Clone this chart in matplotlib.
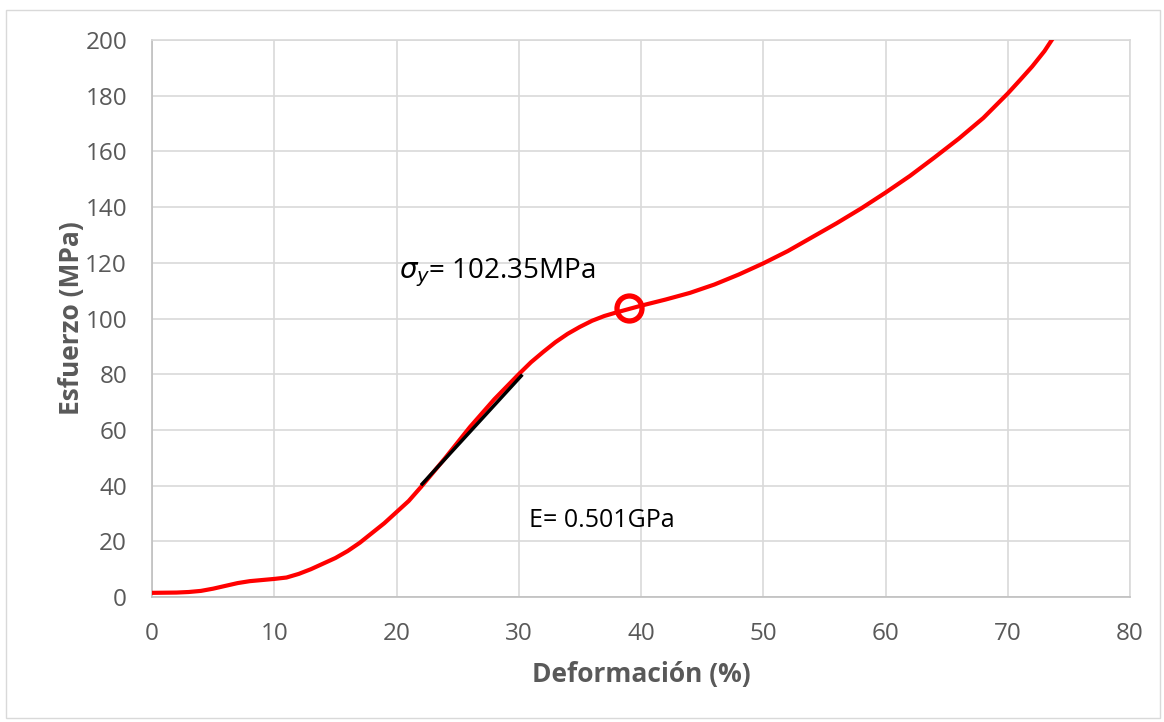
import matplotlib
matplotlib.use('Agg')
import matplotlib.pyplot as plt
from matplotlib.patches import Rectangle

# curva esfuerzo-deformación
deformacion = [0, 2, 3, 4, 5, 6, 7, 8, 9, 10, 11, 12, 13, 14, 15, 16, 17,
               18, 19, 20, 21, 22, 24, 26, 28, 30, 31, 32, 33, 34, 35, 36,
               37, 38, 39, 40, 42, 44, 46, 48, 50, 52, 54, 56, 58, 60, 62,
               64, 66, 68, 70, 71, 72, 73, 73.6]
esfuerzo = [1.5, 1.6, 1.8, 2.2, 3.0, 4.0, 5.0, 5.7, 6.1, 6.5, 7.0, 8.3, 10.0,
            12.0, 14.0, 16.5, 19.5, 23.0, 26.5, 30.5, 34.5, 39.5, 50.0, 61.0,
            71.0, 80.0, 84.3, 88.0, 91.5, 94.5, 97.0, 99.2, 100.9, 102.2,
            103.4, 104.6, 106.8, 109.2, 112.2, 115.8, 119.8, 124.2, 129.2,
            134.2, 139.5, 145.2, 151.2, 157.8, 164.6, 172.0, 180.8, 185.6,
            190.5, 196.0, 200.0]

# recta del módulo elástico
recta_x = [22.1, 30.2]
recta_y = [40.6, 79.4]

# punto de fluencia
fluencia_x = [39.0]
fluencia_y = [103.6]

gris = '#595959'
plt.rcParams['font.family'] = ['Open Sans', 'DejaVu Sans']

fig = plt.figure(figsize=(11.64, 7.22), dpi=100)
ax = fig.add_axes([0.1306, 0.1731, 0.8402, 0.7715])

ax.plot(deformacion, esfuerzo, color='#ff0000', lw=3, zorder=3,
        solid_joinstyle='round')
ax.plot(recta_x, recta_y, color='black', lw=2.5, zorder=4)
ax.plot(fluencia_x, fluencia_y, 'o', ms=18, mfc='none', mec='#ff0000',
        mew=3.8, zorder=5)

ax.text(20.2, 116.5, r'$\sigma_y$= 102.35MPa', fontsize=20, va='center',
        ha='left', color='black')
ax.text(30.8, 27.3, 'E= 0.501GPa', fontsize=18, va='center', ha='left',
        color='black')

ax.set_xlim(0, 80)
ax.set_ylim(0, 200)
ax.set_xticks(range(0, 81, 10))
ax.set_yticks(range(0, 201, 20))
ax.grid(True, color='#d9d9d9', lw=1.2)
ax.set_axisbelow(True)
ax.tick_params(length=0, labelsize=17.5, colors=gris)
ax.tick_params(axis='x', pad=18)
ax.tick_params(axis='y', pad=18)
for s in ax.spines.values():
    s.set_color('#d9d9d9')
    s.set_linewidth(1.2)
ax.spines['bottom'].set_color('#bfbfbf')
ax.spines['left'].set_color('#bfbfbf')

ax.set_xlabel('Deformación (%)', fontsize=19, fontweight='bold', color=gris,
              labelpad=11)
ax.set_ylabel('Esfuerzo (MPa)', fontsize=19, fontweight='bold', color=gris,
              labelpad=0)

# borde del gráfico
fig.patches.append(Rectangle((6 / 1164, 4 / 722), 1154 / 1164, 708 / 722,
                             transform=fig.transFigure, fill=False,
                             edgecolor='#d9d9d9', lw=1))

fig.savefig('out.png', dpi=100)
